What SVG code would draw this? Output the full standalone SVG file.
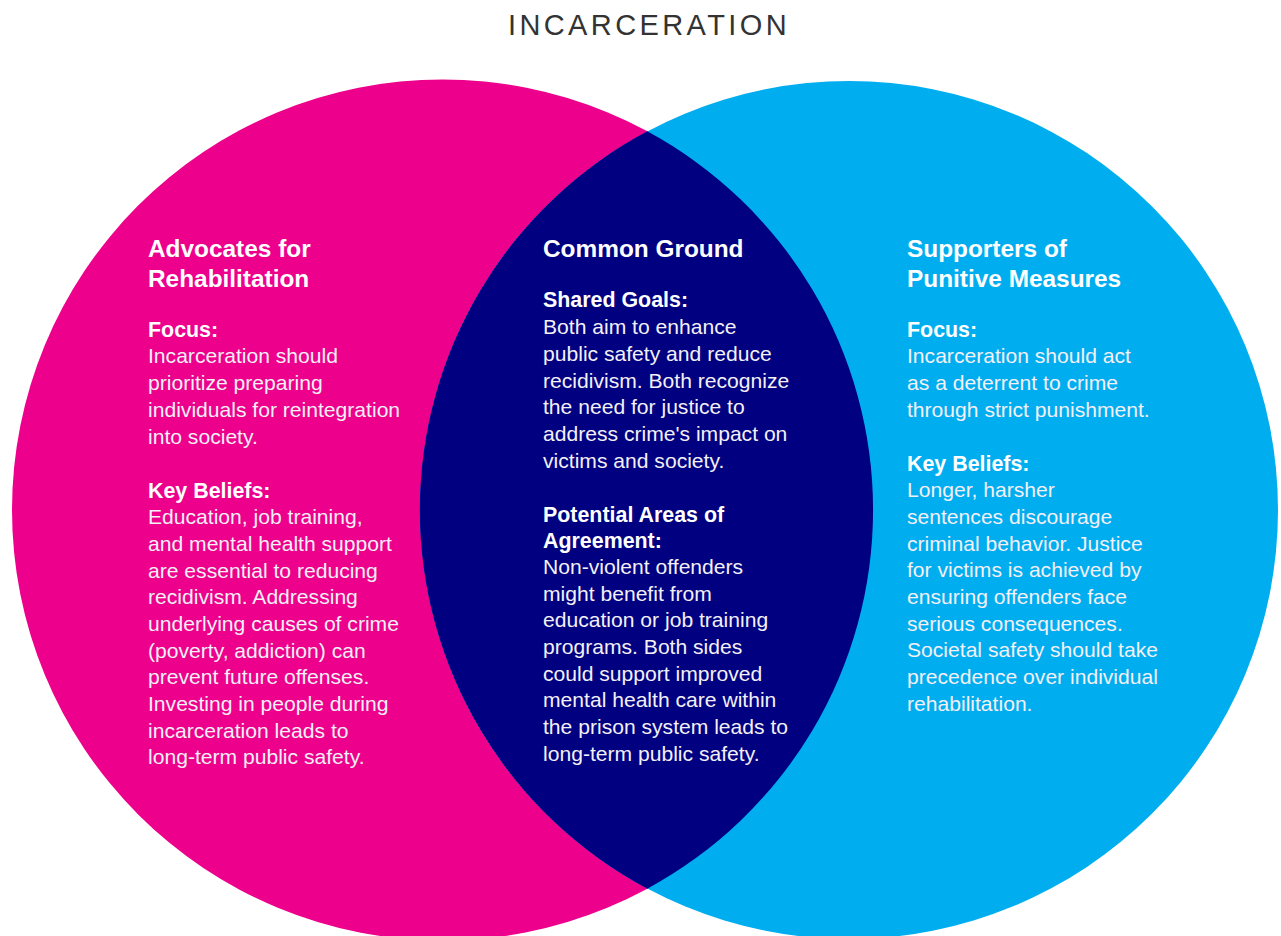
<svg xmlns="http://www.w3.org/2000/svg" width="1281" height="936" viewBox="0 0 1281 936">
<style>
.t{font-family:"Liberation Sans",Arial,Helvetica,sans-serif;fill:#ffffff}
.h{font-size:24.4px;font-weight:bold}
.s{font-size:21.4px;font-weight:bold}
.b{font-size:21.1px;fill:#f4f0f6}
.title{font-family:"Liberation Sans",Arial,Helvetica,sans-serif;font-size:29px;fill:#333333;letter-spacing:3.4px}
</style>
<rect width="1281" height="936" fill="#ffffff"/>
<text class="title" x="649" y="35" text-anchor="middle">INCARCERATION</text>
<g id="rehabilitation">
<circle cx="442.5" cy="510" r="430.5" fill="#EC008C"/>
</g>
<g id="punitive">
<circle cx="849" cy="510" r="429" fill="#00AEEF"/>
</g>
<g id="common-ground">
<path d="M647.3 131.3 A430.5 430.5 0 0 1 647.3 888.7 A429 429 0 0 1 647.3 131.3 Z" fill="#000080"/>
</g>
<g id="connectors"></g>
<g id="rehabilitation-text" class="t">
<text class="t h" x="148" y="257">Advocates for</text>
<text class="t h" x="148" y="287">Rehabilitation</text>
<text class="t s" x="148" y="337">Focus:</text>
<text class="t b" x="148" y="363">Incarceration should</text>
<text class="t b" x="148" y="390">prioritize preparing</text>
<text class="t b" x="148" y="417">individuals for reintegration</text>
<text class="t b" x="148" y="444">into society.</text>
<text class="t s" x="148" y="498">Key Beliefs:</text>
<text class="t b" x="148" y="524">Education, job training,</text>
<text class="t b" x="148" y="551">and mental health support</text>
<text class="t b" x="148" y="578">are essential to reducing</text>
<text class="t b" x="148" y="604">recidivism. Addressing</text>
<text class="t b" x="148" y="631">underlying causes of crime</text>
<text class="t b" x="148" y="658">(poverty, addiction) can</text>
<text class="t b" x="148" y="684">prevent future offenses.</text>
<text class="t b" x="148" y="711">Investing in people during</text>
<text class="t b" x="148" y="738">incarceration leads to</text>
<text class="t b" x="148" y="764">long-term public safety.</text>
</g>
<g id="common-ground-text">
<text class="t h" x="543" y="257">Common Ground</text>
<text class="t s" x="543" y="307">Shared Goals:</text>
<text class="t b" x="543" y="334">Both aim to enhance</text>
<text class="t b" x="543" y="361">public safety and reduce</text>
<text class="t b" x="543" y="388">recidivism. Both recognize</text>
<text class="t b" x="543" y="414">the need for justice to</text>
<text class="t b" x="543" y="441">address crime's impact on</text>
<text class="t b" x="543" y="468">victims and society.</text>
<text class="t s" x="543" y="522">Potential Areas of</text>
<text class="t s" x="543" y="548">Agreement:</text>
<text class="t b" x="543" y="574">Non-violent offenders</text>
<text class="t b" x="543" y="601">might benefit from</text>
<text class="t b" x="543" y="627">education or job training</text>
<text class="t b" x="543" y="654">programs. Both sides</text>
<text class="t b" x="543" y="681">could support improved</text>
<text class="t b" x="543" y="707">mental health care within</text>
<text class="t b" x="543" y="734">the prison system leads to</text>
<text class="t b" x="543" y="761">long-term public safety.</text>
</g>
<g id="punitive-text">
<text class="t h" x="907" y="257">Supporters of</text>
<text class="t h" x="907" y="287">Punitive Measures</text>
<text class="t s" x="907" y="337">Focus:</text>
<text class="t b" x="907" y="363">Incarceration should act</text>
<text class="t b" x="907" y="390">as a deterrent to crime</text>
<text class="t b" x="907" y="417">through strict punishment.</text>
<text class="t s" x="907" y="471">Key Beliefs:</text>
<text class="t b" x="907" y="497">Longer, harsher</text>
<text class="t b" x="907" y="524">sentences discourage</text>
<text class="t b" x="907" y="551">criminal behavior. Justice</text>
<text class="t b" x="907" y="577">for victims is achieved by</text>
<text class="t b" x="907" y="604">ensuring offenders face</text>
<text class="t b" x="907" y="631">serious consequences.</text>
<text class="t b" x="907" y="657">Societal safety should take</text>
<text class="t b" x="907" y="684">precedence over individual</text>
<text class="t b" x="907" y="711">rehabilitation.</text>
</g>
</svg>
